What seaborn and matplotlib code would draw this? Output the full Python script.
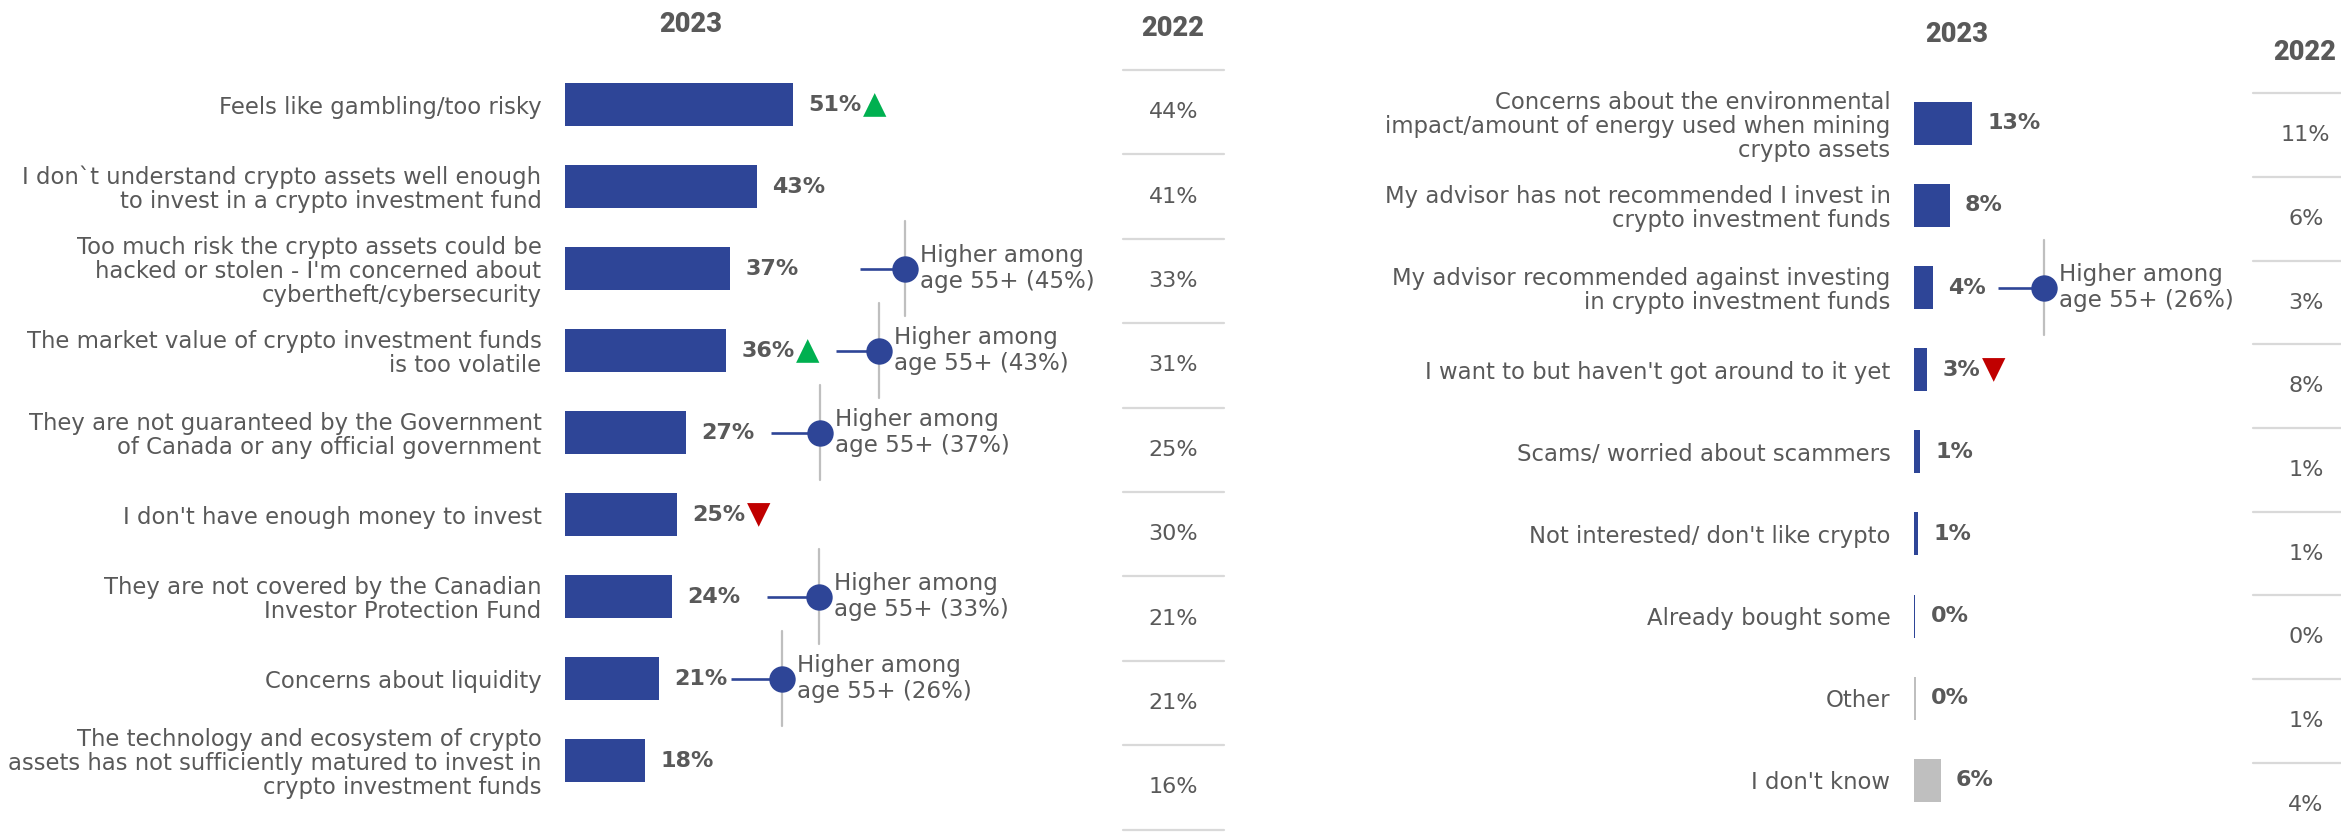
import matplotlib
matplotlib.use("Agg")
import matplotlib.pyplot as plt
import seaborn as sns
import pandas as pd

# ---------------- data ----------------
left_labels = [
    "Feels like gambling/too risky",
    "I don`t understand crypto assets well enough\nto invest in a crypto investment fund",
    "Too much risk the crypto assets could be\nhacked or stolen - I'm concerned about\ncybertheft/cybersecurity",
    "The market value of crypto investment funds\nis too volatile",
    "They are not guaranteed by the Government\nof Canada or any official government",
    "I don't have enough money to invest",
    "They are not covered by the Canadian\nInvestor Protection Fund",
    "Concerns about liquidity",
    "The technology and ecosystem of crypto\nassets has not sufficiently matured to invest in\ncrypto investment funds",
]
left_2023 = [51, 43, 37, 36, 27, 25, 24, 21, 18]
left_2022 = [44, 41, 33, 31, 25, 30, 21, 21, 16]
left_trend = ["up", None, None, "up", None, "down", None, None, None]
left_age55 = [None, None, 45, 43, 37, None, 33, 26, None]

right_labels = [
    "Concerns about the environmental\nimpact/amount of energy used when mining\ncrypto assets",
    "My advisor has not recommended I invest in\ncrypto investment funds",
    "My advisor recommended against investing\nin crypto investment funds",
    "I want to but haven't got around to it yet",
    "Scams/ worried about scammers",
    "Not interested/ don't like crypto",
    "Already bought some",
    "Other",
    "I don't know",
]
right_2023 = [13, 8, 4.2, 3, 1.3, 1.0, 0.3, 0.4, 6]
right_2023_shown = [13, 8, 4, 3, 1, 1, 0, 0, 6]
right_2022 = [11, 6, 3, 8, 1, 1, 0, 1, 4]
right_trend = [None, None, None, "down", None, None, None, None, None]
right_age55 = [None, None, 26, None, None, None, None, None, None]
right_grey_rows = ["Other", "I don't know"]

# ---------------- layout / style ----------------
W, H = 2341, 832
PX = 4.47                      # pixels per percentage point
BLUE = "#2E4597"
LGREY = "#BFBFBF"
TXT = "#595959"
LINE = "#D9D9D9"
GREEN = "#00B050"
RED = "#C00000"

# annotation connector positions (line start, dot) in axis units
left_ann_pos = {2: (66.0, 76.1), 3: (60.6, 70.2), 4: (46.1, 57.0), 6: (45.2, 56.8), 7: (37.1, 48.5)}
right_ann_pos = {2: (18.8, 29.1)}

sns.set_style("white")
plt.rcParams["font.family"] = ["DejaVu Sans"]

fig = plt.figure(figsize=(W / 100, H / 100), dpi=100)


def rect(x0, y0, x1, y1):
    return [x0 / W, 1 - y1 / H, (x1 - x0) / W, (y1 - y0) / H]


def bar_panel(ax, labels, values, shown, trend, age55, ann_pos, colors, xmax):
    df = pd.DataFrame({"label": labels, "value": values})
    sns.barplot(data=df, x="value", y="label", hue="label", palette=colors,
                legend=False, ax=ax, width=0.524, saturation=1,
                errorbar=None, linewidth=0, orient="h")
    ax.set_xlim(0, xmax)
    ax.set_ylim(len(labels) - 0.5, -0.5)
    ax.set_xlabel("")
    ax.set_ylabel("")
    ax.set_xticks([])
    ax.tick_params(axis="y", length=0, pad=17, labelsize=16.4, labelcolor=TXT)
    for lab in ax.get_yticklabels():
        lab.set_linespacing(1.05)
    for s in ax.spines.values():
        s.set_visible(False)
    ax.patch.set_alpha(0)

    for i, (v, sv) in enumerate(zip(values, shown)):
        t = ax.annotate(f"{sv}%", xy=(v, i), xytext=(11, 0), textcoords="offset points",
                        va="center", ha="left", fontsize=16, fontweight="bold", color=TXT)
        if trend[i] == "up":
            ax.annotate("\u25B2", xy=(1, 0.5), xycoords=t, xytext=(1, 0),
                        textcoords="offset points", va="center", ha="left",
                        fontsize=22, color=GREEN)
        elif trend[i] == "down":
            ax.annotate("\u25BC", xy=(1, 0.5), xycoords=t, xytext=(1, 0),
                        textcoords="offset points", va="center", ha="left",
                        fontsize=22, color=RED)

    for i, a in enumerate(age55):
        if a is None:
            continue
        x0, x1 = ann_pos[i]
        ax.plot([x1, x1], [i - 0.58, i + 0.58], color=LGREY, lw=1.6, zorder=2, clip_on=False)
        ax.plot([x0, x1], [i, i], color=BLUE, lw=1.9, zorder=3, solid_capstyle="butt", clip_on=False)
        ax.plot([x1], [i], marker="o", ms=19, color=BLUE, mec="none", zorder=4, clip_on=False)
        ax.annotate(f"Higher among\nage 55+ ({a}%)", xy=(x1, i), xytext=(11, 0),
                    textcoords="offset points", va="center", ha="left", fontsize=16.6,
                    color=TXT, linespacing=1.15)


def col_2022(ax, values, nlines, ymax, xc):
    ax.set_xlim(0, 1)
    ax.set_ylim(ymax, 0)
    ax.axis("off")
    for k in range(nlines):
        ax.plot([0, 1], [k, k], color=LINE, lw=1.6, clip_on=False)
    for i, v in enumerate(values):
        ax.text(xc, i + 0.5, f"{v}%", ha="center", va="center", fontsize=16, color=TXT)


# left panel
ax1 = fig.add_axes(rect(565, 63.7, 1110, 801.7))
bar_panel(ax1, left_labels, left_2023, left_2023, left_trend, left_age55, left_ann_pos,
          [BLUE] * len(left_labels), (1110 - 565) / PX)
ax2 = fig.add_axes(rect(1123, 70, 1224, 829.6))
col_2022(ax2, left_2022, 10, 9, 0.5)

# right panel
ax3 = fig.add_axes(rect(1914, 82.3, 2240, 821.3))
right_colors = [LGREY if l in right_grey_rows else BLUE for l in right_labels]
bar_panel(ax3, right_labels, right_2023, right_2023_shown, right_trend, right_age55,
          right_ann_pos, right_colors, (2240 - 1914) / PX)
ax4 = fig.add_axes(rect(2253, 93.3, 2341, 832))
col_2022(ax4, right_2022, 9, (832 - 93.3) / 83.7, 0.6)

# column titles
title_kw = dict(ha="center", va="center", fontsize=19.5, fontweight="heavy", color=TXT,
                family=["Roboto", "DejaVu Sans"])
fig.text(691 / W, 1 - 25 / H, "2023", **title_kw)
fig.text(1173 / W, 1 - 28 / H, "2022", **title_kw)
fig.text(1957 / W, 1 - 34 / H, "2023", **title_kw)
fig.text(2305 / W, 1 - 52 / H, "2022", **title_kw)

fig.savefig("out.png", dpi=100, facecolor="white")
